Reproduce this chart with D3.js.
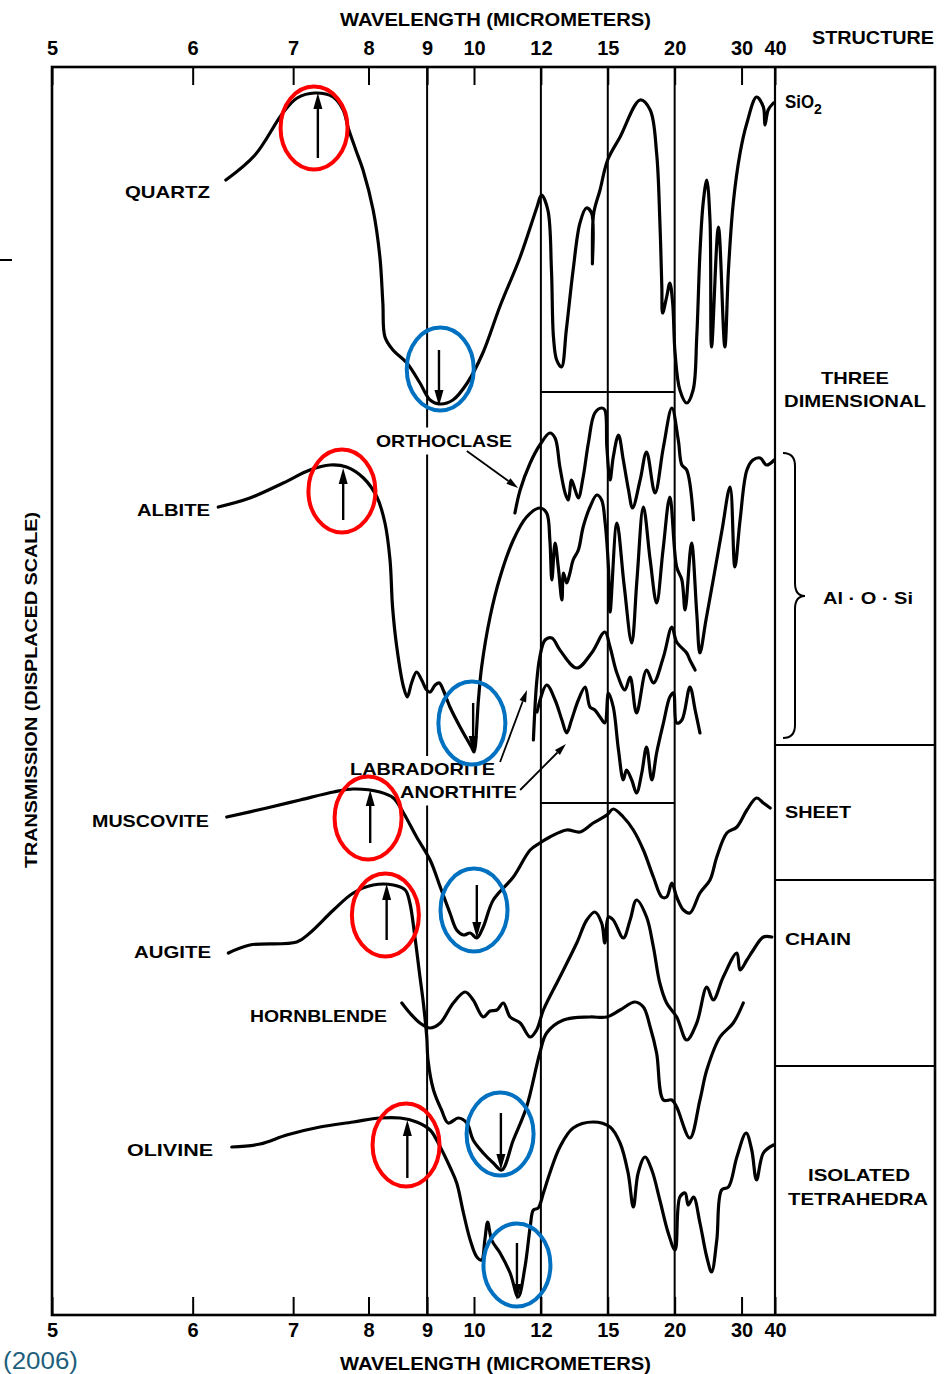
<!DOCTYPE html>
<html><head><meta charset="utf-8">
<script src="https://cdn.jsdelivr.net/npm/d3@7"></script>
<style>body{margin:0;background:#fff}svg{display:block}</style>
</head><body>
<svg id="chart" width="947" height="1374"></svg>
<script>
// ---------- tick labels (wavelength, micrometers) ----------
const tickWavelengths = [5, 6, 7, 8, 9, 10, 12, 15, 20, 30, 40];
const gridWavelengths = [9, 12, 15, 20];

// ---------- spectra: [wavenumber cm-1, transmission (displaced scale)] ----------
const quartz = [[1588,113.5],[1519,116.0],[1453,120.2],[1419,121.7],[1377,122.2],[1334,121.8],[1310,120.5],[1298,118.7],[1280,116.5],[1263,114.5],[1239,110.5],[1223,105.8],[1216,101.2],[1211,97.8],[1192,96.5],[1159,95.2],[1128,93.2],[1104,91.5],[1080,91.1],[1050,91.5],[1016,93.2],[978,96.2],[935,100.9],[885,105.8],[843,110.8],[832,112.0],[816,110.5],[807,104.5],[802,97.8],[794,95.5],[782,94.8],[770,98.5],[753,104.5],[736,109.2],[720,110.7],[707,110.2],[705,105.1],[702,110.1],[686,112.5],[667,115.5],[636,117.8],[586,121.5],[561,120.5],[545,116.2],[537,109.5],[532,102.8],[530,100.2],[520,101.8],[512,103.2],[505,101.2],[499,96.2],[487,92.5],[470,91.2],[454,92.5],[445,97.8],[437,106.2],[429,111.2],[420,113.5],[412,109.5],[408,96.8],[391,108.8],[375,96.8],[366,104.5],[354,111.2],[337,116.2],[320,119.2],[296,121.8],[279,120.8],[275,119.0],[267,120.5],[254,121.2]];
const orthoclase = [[898,80.2],[885,82.5],[860,85.2],[836,87.0],[811,88.2],[798,87.7],[786,84.8],[773,82.2],[765,81.5],[757,83.5],[748,82.5],[740,81.7],[728,83.8],[715,87.2],[699,90.2],[682,90.7],[674,90.5],[669,86.8],[661,83.5],[653,85.8],[640,88.0],[628,85.5],[615,82.5],[605,80.7],[586,83.5],[570,86.3],[549,82.2],[528,86.8],[507,90.7],[491,87.5],[482,85.0],[470,84.5],[453,79.5]];
const albite = [[1606,80.8],[1531,81.7],[1452,83.2],[1389,84.5],[1341,85.0],[1302,84.8],[1262,83.7],[1230,81.8],[1211,79.2],[1199,75.5],[1193,70.8],[1183,66.8],[1167,62.8],[1158,61.8],[1148,63.2],[1136,64.3],[1124,63.5],[1112,62.5],[1104,62.3],[1092,63.0],[1082,63.2],[1073,62.5],[1057,60.8],[1033,58.8],[1005,56.7],[1000,56.3],[989,61.5],[981,64.8],[960,69.8],[935,73.8],[902,77.5],[869,79.8],[836,80.7],[819,80.2],[811,77.5],[806,73.5],[798,77.2],[790,74.8],[781,71.5],[777,74.2],[769,73.2],[761,74.2],[753,75.5],[740,76.5],[728,78.8],[711,80.8],[694,82.0],[682,81.5],[674,79.5],[665,74.8],[661,70.3],[644,79.2],[626,73.0],[607,67.2],[594,73.5],[578,80.8],[561,75.5],[545,71.2],[529,76.5],[512,81.8],[495,74.8],[482,73.5],[474,70.5],[458,77.2],[445,70.2],[437,66.2],[422,69.5],[404,73.5],[382,78.5],[362,82.8],[350,74.8],[337,79.5],[320,84.5],[305,85.5],[287,85.7],[271,85.0],[252,85.5]];
const labradorite = [[852,57.5],[844,63.2],[836,65.8],[823,67.5],[806,67.7],[786,66.5],[744,64.7],[707,66.2],[674,68.3],[661,66.8],[644,64.2],[624,62.5],[611,63.8],[595,60.2],[570,64.5],[553,63.2],[528,65.8],[507,68.8],[495,67.3],[470,66.2],[462,65.5],[449,64.5]];
const anorthite = [[843,60.3],[819,63.0],[798,61.5],[781,59.5],[769,58.2],[757,59.5],[740,61.5],[723,62.8],[711,60.8],[699,60.5],[686,59.8],[674,59.2],[665,62.2],[653,60.8],[640,56.5],[628,53.5],[620,54.5],[607,53.5],[595,52.2],[582,54.2],[570,56.8],[557,53.5],[545,56.2],[528,59.2],[512,61.8],[503,62.2],[495,59.2],[482,59.5],[462,62.8],[449,60.5],[437,58.2]];
const muscovite = [[1586,49.8],[1491,50.7],[1412,51.5],[1333,52.3],[1286,52.6],[1223,52.3],[1191,51.7],[1167,50.2],[1136,47.8],[1104,45.5],[1080,42.8],[1057,40.2],[1041,38.5],[1025,38.0],[1009,38.2],[993,37.7],[977,38.8],[952,41.5],[902,43.8],[860,46.5],[836,47.2],[811,47.8],[769,48.5],[736,48.3],[703,49.2],[669,50.0],[653,50.6],[628,49.8],[603,48.5],[578,46.5],[553,43.8],[532,41.8],[520,41.8],[507,43.2],[495,41.8],[478,40.5],[462,40.2],[437,42.2],[412,43.5],[395,45.8],[370,48.2],[345,48.8],[320,50.5],[296,51.7],[279,51.2],[262,50.7]];
const augite = [[1582,36.2],[1531,37.0],[1420,37.3],[1389,38.2],[1333,40.5],[1286,42.2],[1239,43.0],[1191,43.0],[1163,42.5],[1152,41.2],[1140,37.8],[1128,33.8],[1120,31.2],[1112,27.8],[1109,25.5],[1096,22.5],[1077,20.5],[1061,19.2],[1037,19.7],[1017,19.2],[1002,17.5],[977,16.2],[952,15.2],[931,14.5],[902,17.5],[869,20.8],[836,26.2],[819,28.2],[777,29.5],[711,29.8],[669,29.8],[636,30.5],[599,31.3],[578,30.8],[561,28.8],[545,26.2],[528,21.5],[507,21.5],[495,20.8],[462,17.7],[437,21.5],[420,24.5],[387,27.8],[354,29.2],[329,31.2]];
const hornblende = [[1171,31.2],[1152,30.2],[1128,29.2],[1104,28.7],[1080,29.2],[1049,31.2],[1021,32.3],[1002,31.5],[977,29.8],[960,30.4],[943,30.5],[927,31.2],[910,29.8],[885,29.2],[860,27.8],[844,28.5],[827,30.5],[786,33.8],[744,37.2],[719,39.5],[699,40.3],[682,39.2],[674,37.2],[665,39.8],[653,39.5],[628,37.7],[611,39.5],[595,41.5],[570,39.8],[553,36.8],[537,33.2],[520,31.2],[495,29.8],[470,27.5],[445,29.2],[420,32.8],[404,31.5],[379,33.8],[345,36.2],[337,34.5],[320,35.5],[304,36.5],[279,37.8],[258,37.8]];
const olivine = [[1574,16.8],[1507,17.1],[1444,18.0],[1365,18.8],[1286,19.3],[1223,19.7],[1175,19.7],[1136,19.3],[1104,18.5],[1080,16.8],[1057,14.8],[1041,13.2],[1025,10.2],[1009,7.5],[993,5.8],[981,5.5],[973,7.5],[966,9.3],[956,7.5],[935,6.2],[910,4.2],[890,1.8],[873,4.8],[860,8.8],[852,10.5],[840,10.7],[827,12.2],[811,14.2],[786,16.8],[753,18.7],[703,19.3],[661,18.8],[636,17.2],[616,14.2],[603,10.8],[591,14.2],[574,15.8],[557,14.5],[537,11.5],[516,8.2],[499,6.5],[487,11.8],[474,12.2],[466,11.0],[453,11.8],[437,9.2],[420,5.8],[408,4.3],[395,7.5],[383,12.5],[366,12.8],[345,15.8],[322,18.2],[308,16.5],[296,13.5],[279,16.2],[254,17.0]];
const spectra = [quartz, orthoclase, albite, labradorite, anorthite, muscovite, augite, hornblende, olivine];

// ---------- annotations: maxima (red) and minima (blue) ----------
// [ellipse centre wn, ellipse centre T, arrow wn, arrow tail T, arrow tip T]
const maxMarks = [[1379,118.7,1370,115.7,122.2],[1313,82.4,1310,79.5,84.7],[1251,49.7,1246,47.2,52.5],[1210,40.0,1207,37.5,43.1],[1161,17.0,1158,13.7,19.5]];
const minMarks = [[1080,94.6,1083,96.5,90.9],[1005,59.2,1002,61.2,56.3],[1000,40.5,993,43.0,37.7],[935,18.1,933,20.2,14.5],[893,5.0,893,7.2,1.5]];
// label pointer arrows: [from wn, from T, to wn, to T]
const pointers = [[1017,86.4,890,82.7],[935,55.3,868,62.5],[885,52.5,771,57.1]];
// feldspar box: wavelengths and transmission bounds
const boxWl = [12, 20];
const boxT = [92.3, 51.2];

// ---------- labels ----------
const curveLabels = [
  ["QUARTZ",125,197.5,85],["ALBITE",137,515.5,73],["ORTHOCLASE",376,446.5,136],
  ["LABRADORITE",350,775,145],["ANORTHITE",400,797.5,117],["MUSCOVITE",92,826.5,117],
  ["AUGITE",134,957.5,77],["HORNBLENDE",250,1021.5,137],["OLIVINE",127,1155.5,86]
];
const structLabels = [
  ["THREE",821,383.5,68],["DIMENSIONAL",784,406.5,142],["Al · O · Si",823,603.5,90],
  ["SHEET",785,817.5,66],["CHAIN",785,944.5,66],["ISOLATED",808,1180.5,102],["TETRAHEDRA",788,1204.5,140]
];

const FONT = "'Liberation Sans', Arial, Helvetica, sans-serif";
const svg = d3.select("#chart");
svg.append("rect").attr("width",947).attr("height",1374).attr("fill","#fff");

const x = d3.scaleLinear().domain([2000, 1000, 250]).range([52, 474, 775]);
const y = d3.scaleLinear().domain([0, 124.8]).range([1315, 67]);
const wn = w => 1e4 / w;
const rightEdge = 935;
const yTop = y.range()[1], yBottom = y.range()[0];
const xLeft = x.range()[0], plotRight = x.range()[2];

// ---------- frame ----------
const frame = svg.append("g").attr("stroke","#000").attr("fill","none");
frame.append("rect").attr("x",xLeft).attr("y",yTop).attr("width",rightEdge-xLeft).attr("height",yBottom-yTop).attr("stroke-width",2.6);
frame.append("line").attr("x1",plotRight).attr("x2",plotRight).attr("y1",yTop).attr("y2",yBottom).attr("stroke-width",2.2);
[745, 880, 1066].forEach(py => frame.append("line").attr("x1",plotRight).attr("x2",rightEdge).attr("y1",py).attr("y2",py).attr("stroke-width",2.2));
gridWavelengths.forEach(w => frame.append("line").attr("x1",x(wn(w))).attr("x2",x(wn(w))).attr("y1",yTop).attr("y2",yBottom).attr("stroke-width",2));
// feldspar box
boxT.forEach(t => frame.append("line")
  .attr("x1",x(wn(boxWl[0]))).attr("x2",x(wn(boxWl[1]))).attr("y1",y(t)).attr("y2",y(t)).attr("stroke-width",2.2));
// small dash on left edge
svg.append("line").attr("x1",0).attr("x2",12).attr("y1",260).attr("y2",260).attr("stroke","#000").attr("stroke-width",2);

// ---------- axes ----------
function styleAxis(g){
  g.select(".domain").remove();
  g.selectAll(".tick line").attr("stroke","#000").attr("stroke-width",2);
  g.selectAll(".tick text").attr("fill","#000").attr("font-size",20).attr("font-weight","bold").attr("font-family",FONT);
}
const tv = tickWavelengths.map(wn);
svg.append("g").attr("transform",`translate(0,${yTop})`)
  .call(d3.axisTop(x).tickValues(tv).tickFormat(d => String(Math.round(1e4/d))).tickSizeInner(-18).tickSizeOuter(0).tickPadding(12))
  .call(styleAxis);
svg.append("g").attr("transform",`translate(0,${yBottom})`)
  .call(d3.axisBottom(x).tickValues(tv).tickFormat(d => String(Math.round(1e4/d))).tickSizeInner(-18).tickSizeOuter(0).tickPadding(8))
  .call(styleAxis);

const backs = svg.append("g").attr("fill","#fff");
const texts = svg.append("g");
function txt(s, px, py, len, size, opts = {}){
  const t = texts.append("text").attr("x",px).attr("y",py).text(s)
    .attr("font-family",FONT).attr("font-size",size).attr("font-weight",opts.weight || "bold")
    .attr("fill",opts.fill || "#000");
  if (len) t.attr("textLength",len).attr("lengthAdjust","spacingAndGlyphs");
  return t;
}
txt("WAVELENGTH (MICROMETERS)", 340, 26, 311, 19);
txt("WAVELENGTH (MICROMETERS)", 340, 1370, 311, 19);
txt("STRUCTURE", 812, 44, 122, 19);
txt("(2006)", 3, 1369, 75, 23, {weight:"normal", fill:"#1e5f7c"});
texts.append("text").attr("transform","translate(37,868) rotate(-90)").text("TRANSMISSION (DISPLACED SCALE)")
  .attr("font-family",FONT).attr("font-size",16).attr("font-weight","bold")
  .attr("textLength",356).attr("lengthAdjust","spacingAndGlyphs");

// curve labels (white backing where they interrupt the 9 µm line)
const x9 = x(wn(9));
curveLabels.forEach(([s, px, py, len]) => {
  const t = txt(s, px, py, len, 17);
  const b = t.node().getBBox();
  if (b.x < x9 && b.x + b.width > x9) {
    backs.append("rect").attr("x",b.x-2).attr("y",b.y-4).attr("width",b.width+4).attr("height",b.height+8);
  }
});
structLabels.forEach(([s, px, py, len]) => txt(s, px, py, len, 17));
txt("SiO", 785, 108, 29, 18);
txt("2", 814, 114, null, 14);
// brace for Al-O-Si group
svg.append("path").attr("d","M783,453 Q795,453 795,466 L795,583 Q795,596 805,596 Q795,596 795,609 L795,725 Q795,738 783,738")
  .attr("fill","none").attr("stroke","#000").attr("stroke-width",2);

// ---------- spectra ----------
const line = d3.line().x(d => x(d[0])).y(d => y(d[1])).curve(d3.curveCatmullRom.alpha(0.5));
svg.append("g").selectAll("path").data(spectra).join("path")
  .attr("d", line).attr("fill","none").attr("stroke","#000").attr("stroke-width",3.2)
  .attr("stroke-linejoin","round").attr("stroke-linecap","round");

// ---------- arrows ----------
function arrow(g, x1, y1, x2, y2, hl, hw, sw){
  const a = Math.atan2(y2-y1, x2-x1), c = Math.cos(a), s = Math.sin(a);
  const bx = x2 - hl*c, by = y2 - hl*s;
  g.append("line").attr("x1",x1).attr("y1",y1).attr("x2",bx).attr("y2",by).attr("stroke","#000").attr("stroke-width",sw);
  g.append("path").attr("d",`M${x2},${y2}L${bx - hw*s},${by + hw*c}L${bx + hw*s},${by - hw*c}Z`).attr("fill","#000");
}
const ann = svg.append("g");
pointers.forEach(([w1,t1,w2,t2]) => arrow(ann, x(w1), y(t1), x(w2), y(t2), 12, 3.5, 1.8));
function marks(list, color){
  list.forEach(([cw, ct, aw, tail, tip]) => {
    arrow(ann, x(aw), y(tail), x(aw), y(tip), 16, 4.5, 2.4);
    ann.append("ellipse").attr("cx",x(cw)).attr("cy",y(ct)).attr("rx",33.5).attr("ry",41.5)
      .attr("fill","none").attr("stroke",color).attr("stroke-width",4);
  });
}
marks(maxMarks, "#ff0000");
marks(minMarks, "#0070c0");
</script>
</body></html>
